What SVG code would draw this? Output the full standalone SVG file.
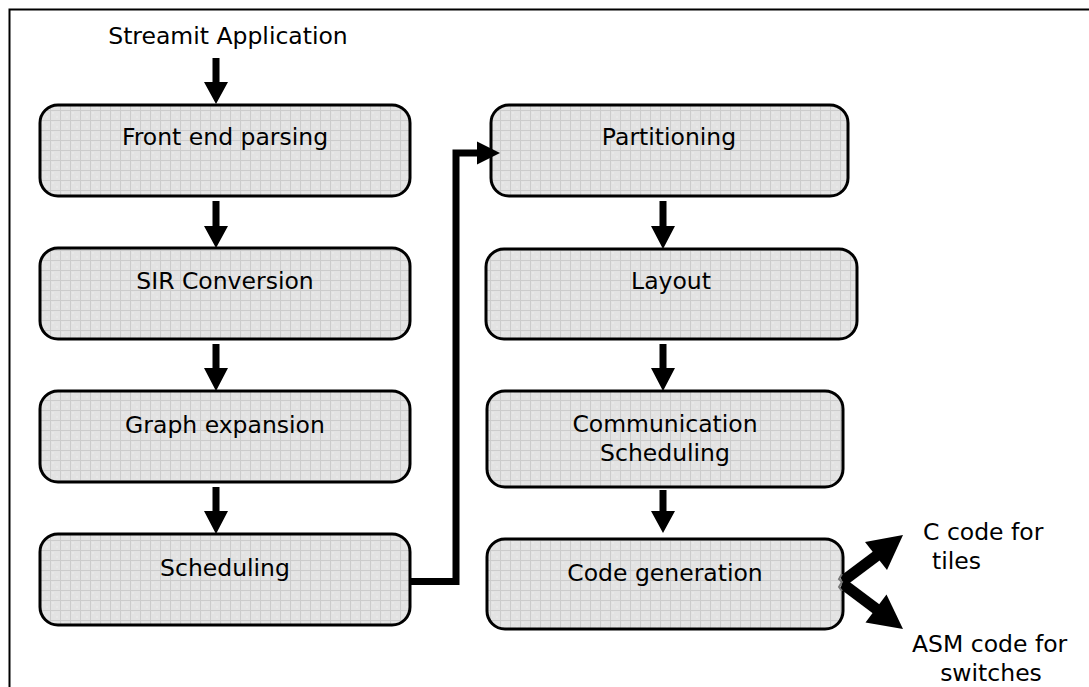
<svg xmlns="http://www.w3.org/2000/svg" width="1089" height="687" viewBox="0 0 1089 687">
<style>
.box{fill:url(#grid);stroke:#000;stroke-width:3}
.t{font-family:"DejaVu Sans","Verdana",sans-serif;font-size:23.5px;fill:#000;text-anchor:middle}
.ts{font-family:"DejaVu Sans","Verdana",sans-serif;font-size:23.5px;fill:#000}
.ar{fill:#000}
</style>
<defs>
<pattern id="grid" width="10" height="10" patternUnits="userSpaceOnUse">
<rect width="10" height="10" fill="#e3e3e3"/>
<path d="M0 0.5H10M0.5 0V10" stroke="#cccccc" stroke-width="1"/>
<circle cx="3" cy="3" r="0.7" fill="#f3f3f3"/>
<circle cx="7" cy="7" r="0.7" fill="#f3f3f3"/>
</pattern>
</defs>
<rect x="9.5" y="9.5" width="1095" height="700" fill="#fff" stroke="#000" stroke-width="2"/>
<text class="t" x="228" y="44">Streamit Application</text>

<g id="front-end-parsing"><rect class="box" x="40" y="105" width="370" height="91" rx="18"/><text class="t" x="225" y="145">Front end parsing</text></g>
<g id="sir-conversion"><rect class="box" x="40" y="248" width="370" height="91" rx="18"/><text class="t" x="225" y="289">SIR Conversion</text></g>
<g id="graph-expansion"><rect class="box" x="40" y="391" width="370" height="91" rx="18"/><text class="t" x="225" y="433">Graph expansion</text></g>
<g id="scheduling"><rect class="box" x="40" y="534" width="370" height="91" rx="18"/><text class="t" x="225" y="576">Scheduling</text></g>

<g id="partitioning"><rect class="box" x="491" y="105" width="357" height="91" rx="18"/><text class="t" x="669" y="145">Partitioning</text></g>
<g id="layout"><rect class="box" x="486" y="249" width="371" height="90" rx="18"/><text class="t" x="671" y="289">Layout</text></g>
<g id="communication-scheduling"><rect class="box" x="487" y="391" width="356" height="96" rx="18"/><text class="t" x="665" y="432">Communication</text><text class="t" x="665" y="461">Scheduling</text></g>
<g id="code-generation"><rect class="box" x="487" y="539" width="356" height="90" rx="18"/><text class="t" x="665" y="581">Code generation</text></g>

<g id="outputs">
<text class="ts" x="923" y="540">C code for</text>
<text class="ts" x="932" y="569">tiles</text>
<text class="ts" x="912" y="652">ASM code for</text>
<text class="t" x="991" y="681">switches</text>
</g>

<g id="connectors">
<polygon class="ar" points="212.5,58 219.5,58 219.5,82 228,82 216,104 204,82 212.5,82"/>
<polygon class="ar" points="212.5,201 219.5,201 219.5,226 228,226 216,248 204,226 212.5,226"/>
<polygon class="ar" points="212.5,344 219.5,344 219.5,368 228,368 216,391 204,368 212.5,368"/>
<polygon class="ar" points="212.5,487 219.5,487 219.5,511 228,511 216,534 204,511 212.5,511"/>

<polygon class="ar" points="659.5,201 666.5,201 666.5,226 675,226 663,249 651,226 659.5,226"/>
<polygon class="ar" points="659.5,344 666.5,344 666.5,368 675,368 663,391 651,368 659.5,368"/>
<polygon class="ar" points="659.5,490 666.5,490 666.5,511 675,511 663,533 651,511 659.5,511"/>

<polyline points="410,581.5 456,581.5 456,153 479,153" fill="none" stroke="#000" stroke-width="7" stroke-linejoin="miter"/>
<polygon class="ar" points="477,141.5 500,153 477,164.5"/>

<line x1="843" y1="581" x2="879" y2="554" stroke="#000" stroke-width="11"/>
<polygon class="ar" points="903,535 865,542 887,570"/>
<line x1="843" y1="584" x2="879" y2="611" stroke="#000" stroke-width="11"/>
<polygon class="ar" points="903,629 865.5,622.5 886.5,594.5"/>
<path d="M842,574 l-3,5 l3,3 l-3,5 l3,4" fill="none" stroke="#777" stroke-width="2"/>
</g>
</svg>
